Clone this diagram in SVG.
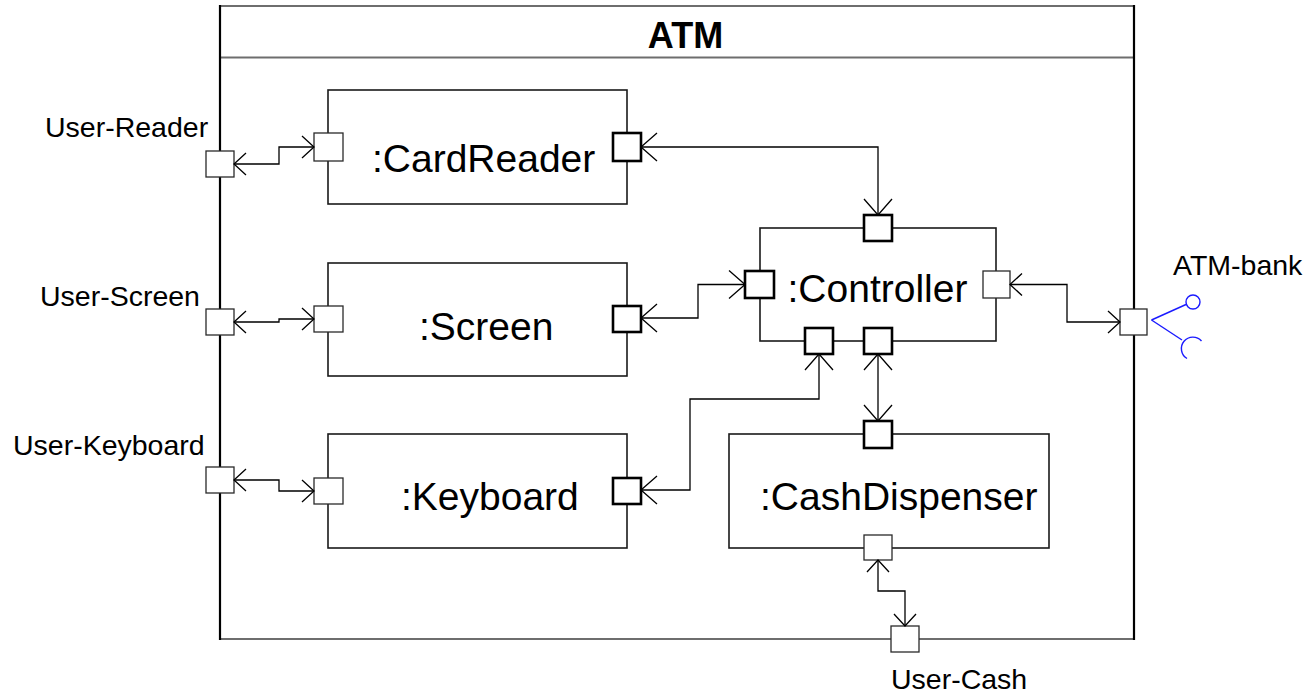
<svg xmlns="http://www.w3.org/2000/svg" width="1311" height="695" viewBox="0 0 1311 695">
  <style>
    text { font-family: "Liberation Sans", Arial, sans-serif; fill: #000; }
    .title { font-size: 36px; font-weight: bold; text-anchor: middle; }
    .name { font-size: 39px; }
    .label { font-size: 28.5px; }
    .part { fill: #fff; stroke: #1a1a1a; stroke-width: 1.6; }
    .port { fill: #fff; stroke: #2a2a2a; stroke-width: 1.3; }
    .port-b { fill: #fff; stroke: #000; stroke-width: 2.6; }
    .frame-v { stroke: #000; stroke-width: 2.2; }
    .frame-h { stroke: #6e6e6e; stroke-width: 1.8; }
    .link { fill: none; stroke: #000; stroke-width: 1.3; }
    .lg { marker-start: url(#open-lg); marker-end: url(#open-lg); }
    .sm { marker-start: url(#open-sm); marker-end: url(#open-sm); }
    .iface { fill: none; stroke: #1a1aff; stroke-width: 1.4; }
  </style>
  <defs>
    <marker id="open-lg" markerUnits="userSpaceOnUse" orient="auto-start-reverse" refX="0" refY="0" markerWidth="40" markerHeight="40" viewBox="-20 -20 40 40" overflow="visible">
      <path d="M-16,-14 L0,0 L-16,14" fill="none" stroke="#000" stroke-width="1.3"/>
    </marker>
    <marker id="open-sm" markerUnits="userSpaceOnUse" orient="auto-start-reverse" refX="0" refY="0" markerWidth="40" markerHeight="40" viewBox="-20 -20 40 40" overflow="visible">
      <path d="M-12,-11 L0,0 L-12,11" fill="none" stroke="#000" stroke-width="1.3"/>
    </marker>
  </defs>

  <rect width="1311" height="695" fill="#fff"/>

  <!-- enclosing ATM structure -->
  <g id="atm">
    <rect x="220" y="6" width="914" height="633" fill="#fff"/>
    <line class="frame-h" x1="220" y1="6" x2="1134" y2="6"/>
    <line class="frame-h" x1="220" y1="57.5" x2="1134" y2="57.5"/>
    <line class="frame-h" x1="220" y1="639" x2="1134" y2="639"/>
    <line class="frame-v" x1="220" y1="5" x2="220" y2="640"/>
    <line class="frame-v" x1="1134" y1="5" x2="1134" y2="640"/>
    <text class="title" x="685.5" y="47.5">ATM</text>
  </g>

  <!-- internal parts -->
  <g id="card-reader">
    <rect class="part" x="328" y="90" width="299" height="114"/>
    <text class="name" x="372" y="172">:CardReader</text>
    <rect class="port" x="314" y="133" width="29" height="28"/>
    <rect class="port-b" x="613" y="133" width="28" height="28"/>
  </g>

  <g id="screen">
    <rect class="part" x="328" y="263" width="299" height="113"/>
    <text class="name" x="419" y="340">:Screen</text>
    <rect class="port" x="314" y="306" width="29" height="26"/>
    <rect class="port-b" x="613" y="306" width="28" height="26"/>
  </g>

  <g id="keyboard">
    <rect class="part" x="328" y="434" width="299" height="114"/>
    <text class="name" x="401" y="510">:Keyboard</text>
    <rect class="port" x="314" y="478" width="29" height="26"/>
    <rect class="port-b" x="613" y="478" width="28" height="26"/>
  </g>

  <g id="controller">
    <rect class="part" x="760" y="228" width="236" height="113"/>
    <text class="name" x="787.5" y="301.5">:Controller</text>
    <rect class="port-b" x="864" y="215" width="28" height="26"/>
    <rect class="port-b" x="745" y="271" width="29" height="27"/>
    <rect class="port" x="983" y="271" width="27" height="27"/>
    <rect class="port-b" x="805" y="328" width="28" height="26"/>
    <rect class="port-b" x="864" y="328" width="28" height="26"/>
  </g>

  <g id="cash-dispenser">
    <rect class="part" x="729" y="434" width="320" height="114"/>
    <text class="name" x="760" y="510">:CashDispenser</text>
    <rect class="port-b" x="864" y="421" width="28" height="27"/>
    <rect class="port" x="864" y="535" width="28" height="25"/>
  </g>

  <!-- boundary ports of the ATM -->
  <g id="port-user-reader">
    <rect class="port" x="206" y="151" width="28" height="26"/>
    <text class="label" x="45" y="137">User-Reader</text>
  </g>
  <g id="port-user-screen">
    <rect class="port" x="206" y="309" width="28" height="26"/>
    <text class="label" x="40" y="306">User-Screen</text>
  </g>
  <g id="port-user-keyboard">
    <rect class="port" x="206" y="467" width="28" height="26"/>
    <text class="label" x="13" y="455">User-Keyboard</text>
  </g>
  <g id="port-user-cash">
    <rect class="port" x="891" y="626" width="28" height="26"/>
    <text class="label" x="891" y="689">User-Cash</text>
  </g>
  <g id="port-atm-bank">
    <rect class="port" x="1120" y="309" width="27" height="26"/>
    <text class="label" x="1173" y="275">ATM-bank</text>
    <!-- provided (ball) and required (socket) interfaces -->
    <path class="iface" d="M1151.5,320 L1186,304.5"/>
    <circle class="iface" cx="1193" cy="302" r="7"/>
    <path class="iface" d="M1151.5,320 L1182,340"/>
    <path class="iface" d="M1201.5,341 A11.5,11.5 0 1 0 1187,358.5"/>
  </g>

  <!-- connectors -->
  <g id="connectors">
    <path class="link sm" d="M234,164 H279 V147 H314"/>
    <path class="link sm" d="M234,322 H279 V319 H314"/>
    <path class="link sm" d="M234,480 H279 V491 H314"/>
    <path class="link lg" d="M641,147 H878 V215"/>
    <path class="link lg" d="M641,318 H698 V284.5 H745"/>
    <path class="link lg" d="M641,490 H690 V399 H819 V354"/>
    <path class="link sm" d="M1010,284.5 H1067 V322 H1120"/>
    <path class="link lg" d="M878,354 V421"/>
    <path class="link sm" d="M878,560 V591 H905 V626"/>
  </g>
</svg>
